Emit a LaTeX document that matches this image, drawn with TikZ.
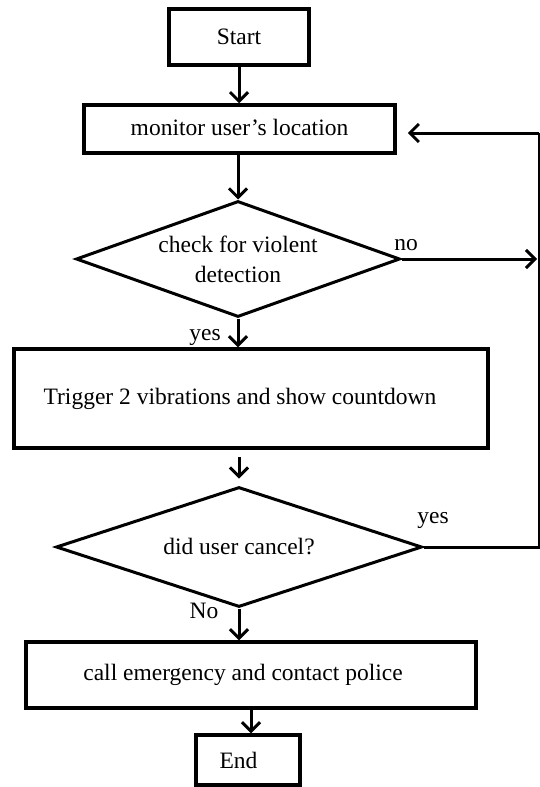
\documentclass[tikz,border=0pt]{standalone}
\usepackage{fontspec}
\setmainfont{Liberation Serif}
\usetikzlibrary{shapes.geometric,arrows.meta}
\tikzset{
  box/.style={draw, line width=3.5pt, rectangle, inner sep=0pt, font=\fontsize{23.5}{27}\selectfont},
  decision/.style={draw, line width=3pt, diamond, inner sep=0pt, font=\fontsize{23.5}{30}\selectfont, align=center},
  lbl/.style={inner sep=0pt, font=\fontsize{23.5}{27}\selectfont},
  flow/.style={line width=3pt, -{Straight Barb[length=9pt,width=18pt,line width=3pt]}},
  plain/.style={line width=3pt}
}
\begin{document}
\begin{tikzpicture}[x=1pt,y=-1pt]
\useasboundingbox (0,0) rectangle (540,787);
\node[box, minimum width=140pt, minimum height=56pt] (start) at (239,37) {Start};
\node[box, minimum width=311pt, minimum height=48pt] (mon) at (239.5,129) {\raisebox{4pt}{monitor user’s location}};
\node[decision, minimum width=324pt, minimum height=116pt, aspect=2.8] (d1) at (238,259) {check for violent\\detection};
\node[box, minimum width=474pt, minimum height=99pt] (trig) at (251,398.5) {Trigger 2 vibrations and show countdown\hspace*{22pt}};
\node[decision, minimum width=366pt, minimum height=120pt, aspect=3] (d2) at (239,547) {did user cancel?};
\node[box, minimum width=450pt, minimum height=66pt] (call) at (251,675) {\raisebox{2pt}{call emergency and contact police}\hspace*{16pt}};
\node[box, minimum width=104pt, minimum height=50pt] (end) at (248,760) {\raisebox{-3pt}{End}\hspace*{19pt}};
\coordinate (noend) at (537,259);
\coordinate (rc) at (539,547);
\coordinate (rt) at (539,133);
\node[lbl] (lno) at (406,245) {no};
\node[lbl] (lyes1) at (205,337) {yes};
\node[lbl] (lyes2) at (433,520) {yes};
\node[lbl] (lNo) at (204,611) {No};
\draw[flow] (start.south) -- (start.south |- mon.north);
\draw[flow] (mon.south -| d1.north) -- (d1.north);
\draw[flow] (d1.south) -- (d1.south |- trig.north);
\draw[flow, shorten <=7pt, shorten >=7pt] (trig.south -| d2.north) -- (d2.north);
\draw[flow] (d2.south) -- (d2.south |- call.north);
\draw[flow] (call.south) -- (call.south |- end.north);
\draw[flow] (d1.east) -- (noend);
\draw[plain] (d2.east) -- (rc) -- (rt);
\draw[flow, shorten >=11pt] (rt) -- (rt -| mon.east);
\end{tikzpicture}
\end{document}
